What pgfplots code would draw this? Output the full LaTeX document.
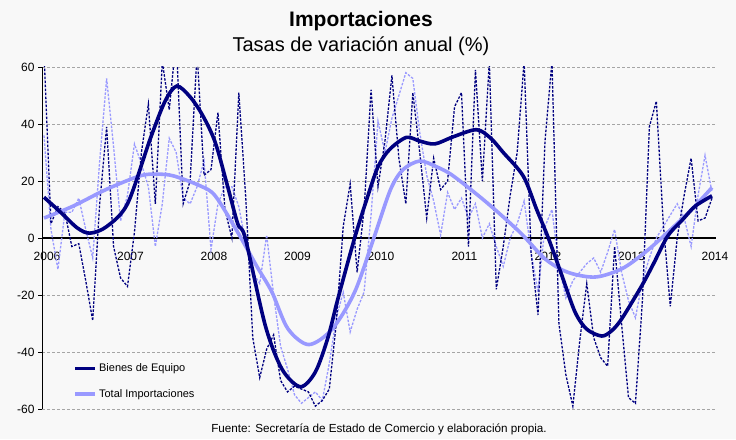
\documentclass[border=0pt]{standalone}
\usepackage{pgfplots}
\pgfplotsset{compat=1.18}
\usepackage{pgfplotstable}
\usepackage{fontspec}
\setmainfont{Liberation Sans}
\definecolor{navy}{RGB}{0,0,128}
\definecolor{lav}{RGB}{153,153,255}
\definecolor{bg}{RGB}{248,248,248}
\definecolor{gridc}{RGB}{165,165,165}

\pgfplotstableread{
m b t
0 65 36
1 5 3
2 11 -11
3 9 9
4 -3 9
5 -2 14
6 -15 3
7 -29 -7
8 12 27
9 39 56
10 -3 32
11 -14 6
12 -17 15
13 2 33
14 30 26
15 47 18
16 12 -3
17 62 12
18 45 35
19 70 30
20 12 14
21 20 12
22 65 18
23 22 27
24 24 -4
25 44 12
26 10 18
27 0 18
28 51 11
29 14 -2
30 -35 -12
31 -49 -16
32 -39 1
33 -34 -20
34 -50 -38
35 -54 -46
36 -52 -55
37 -53 -58
38 -54 -56
39 -59 -54
40 -57 -57
41 -53 -44
42 -30 -28
43 4 -19
44 19 -33
45 -12 -25
46 10 -19
47 52 8
48 18 41
49 34 30
50 57 42
51 28 50
52 12 58
53 51 56
54 30 37
55 7 22
56 28 13
57 17 1
58 20 16
59 46 10
60 51 14
61 -3 7
62 59 12
63 20 0
64 62 5
65 -18 -3
66 -3 -10
67 15 0
68 30 5
69 62 13
70 -5 -5
71 -27 -19
72 34 4
73 62 10
74 -30 -10
75 -48 -21
76 -59 -15
77 -36 -12
78 -16 -9
79 -35 -7
80 -42 -12
81 -45 -5
82 -3 3
83 -30 -12
84 -56 -22
85 -58 -28
86 -22 -15
87 39 -7
88 48 0
89 5 4
90 -24 8
91 0 12
92 15 7
93 28 -3
94 6 15
95 7 29
96 14 16
}\rawdata

\pgfplotstableread{
x y
2006.0 14.3
2006.2 9
2006.4 3.5
2006.55 1.7
2006.75 4
2007.0 12
2007.27 34.6
2007.45 48
2007.59 53.3
2007.75 49.5
2007.9 43
2008.05 33.6
2008.2 18
2008.32 5
2008.41 0
2008.65 -30.7
2008.85 -46
2009.07 -52.2
2009.25 -47
2009.4 -35
2009.52 -21.3
2009.72 0
2009.87 14
2010.0 25
2010.14 31.1
2010.34 35.3
2010.5 34
2010.68 33
2010.9 35.5
2011.18 38
2011.35 35
2011.5 30
2011.74 21.7
2011.9 10
2012.04 0
2012.2 -13
2012.36 -26
2012.5 -32
2012.68 -34.4
2012.8 -32.5
2012.92 -28.3
2013.16 -16.7
2013.3 -9
2013.47 0.7
2013.65 6.5
2013.8 11.2
2014.0 14.8
}\smoothB

\pgfplotstableread{
x y
2006.0 7
2006.35 11.2
2006.75 17.1
2007.15 21.8
2007.35 22.4
2007.55 21.8
2007.87 18.3
2008.05 14.8
2008.32 2
2008.55 -10
2008.73 -19
2008.92 -31.8
2009.17 -37.4
2009.45 -32
2009.72 -19
2009.95 0
2010.15 17
2010.3 24
2010.5 27
2010.7 25
2010.9 21.8
2011.3 12.5
2011.7 2
2012.0 -7.3
2012.27 -12
2012.6 -13.7
2012.92 -10.8
2013.2 -5
2013.47 2
2013.76 10.1
2014.0 17.7
}\smoothT

\begin{document}
\begin{tikzpicture}
\fill[bg] (0pt,0pt) rectangle (736pt,439pt);
\begin{axis}[
  at={(42pt,30pt)}, anchor=south west,
  scale only axis, width=674pt, height=342pt,
  xmin=2005.976, xmax=2014.048, ymin=-60, ymax=60,
  axis x line*=middle, axis y line*=left,
  x axis line style={-, line width=1.4pt, black},
  y axis line style={-, line width=1pt, black},
  xtick={2006,2007,...,2014},
  xticklabels={2006,2007,2008,2009,2010,2011,2012,2013,2014},
  xtick style={draw=none},
  xticklabel style={font=\fontsize{12}{12}\selectfont, yshift=-7pt, xshift=3pt},
  ytick={-60,-40,-20,0,20,40,60},
  yticklabels={-60,-40,-20,0,20,40,60},
  yticklabel style={font=\fontsize{12}{12}\selectfont},
  ytick style={black, line width=0.8pt},
  tick align=outside, major tick length=4pt,
  ymajorgrids, grid style={gridc, dash pattern=on 3pt off 2pt, line width=0.8pt},
  legend style={at={(0.042,0.145)}, anchor=north west, draw=none, fill=none,
    font=\fontsize{11}{13}\selectfont, row sep=12pt, cells={anchor=west}},
  legend image code/.code={\draw[#1] (0pt,0pt) -- (20pt,0pt);},
  reverse legend,
]
\addplot[lav, line width=1.3pt, dash pattern=on 2.5pt off 1.5pt, forget plot]
  table[x expr=2006+\thisrow{m}/12, y=t]{\rawdata};
\addplot[navy, line width=1.3pt, dash pattern=on 2.5pt off 1.5pt, forget plot]
  table[x expr=2006+\thisrow{m}/12, y=b]{\rawdata};
\addplot[lav, line width=3.6pt, smooth] table[x=x, y=y]{\smoothT};
\addlegendentry{Total Importaciones}
\addplot[navy, line width=3.6pt, smooth] table[x=x, y=y]{\smoothB};
\addlegendentry{Bienes de Equipo}
\end{axis}
\node[anchor=base, font=\bfseries\fontsize{21}{24}\selectfont] at (361pt,412pt) {Importaciones};
\node[anchor=base, font=\fontsize{20}{24}\selectfont] at (361pt,387pt) {Tasas de variación anual (\%)};
\node[anchor=base, font=\fontsize{11.7}{13}\selectfont] at (379pt,7pt) {Fuente: Secretaría de Estado de Comercio y elaboración propia.};
\end{tikzpicture}
\end{document}
